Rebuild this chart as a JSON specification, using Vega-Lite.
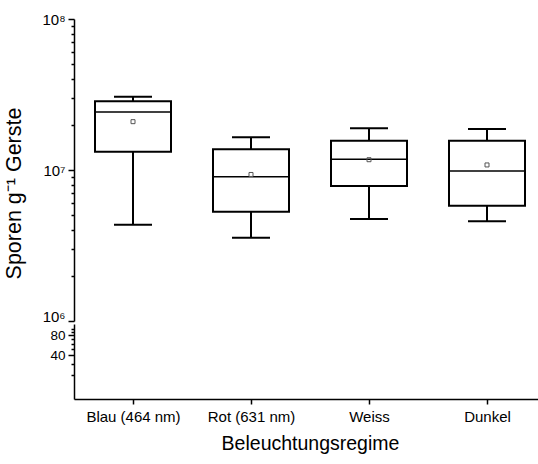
{
  "$schema": "https://vega.github.io/schema/vega-lite/v6.json",
  "padding": {"left": 3, "top": 12, "right": 0, "bottom": 5},
  "spacing": 3,
  "bounds": "flush",
  "config": {
    "view": {"stroke": null},
    "font": "Liberation Sans",
    "axis": {
      "grid": false,
      "domainColor": "#000",
      "domainWidth": 1.5,
      "tickColor": "#000",
      "tickWidth": 1.5,
      "labelColor": "#000",
      "titleColor": "#000",
      "labelFont": "Liberation Sans",
      "titleFont": "Liberation Sans",
      "titleFontWeight": "normal",
      "labelFontSize": 15,
      "titleFontSize": 19.5
    },
    "axisY": {"labelFontSize": 13.5}
  },
  "datasets": {
    "stats": [
      {"regime": "Blau (464 nm)", "min": 4340000, "q1": 13200000, "median": 24200000, "q3": 28500000, "max": 30600000, "mean": 20900000},
      {"regime": "Rot (631 nm)", "min": 3560000, "q1": 5290000, "median": 9030000, "q3": 13700000, "max": 16500000, "mean": 9340000},
      {"regime": "Weiss", "min": 4740000, "q1": 7840000, "median": 11800000, "q3": 15600000, "max": 18900000, "mean": 11700000},
      {"regime": "Dunkel", "min": 4570000, "q1": 5800000, "median": 9850000, "q3": 15600000, "max": 18700000, "mean": 10800000}
    ]
  },
  "vconcat": [
    {
      "width": 472,
      "height": 302,
      "data": {"name": "stats"},
      "encoding": {
        "x": {
          "field": "regime",
          "type": "nominal",
          "sort": ["Blau (464 nm)", "Rot (631 nm)", "Weiss", "Dunkel"],
          "scale": {"domain": ["Blau (464 nm)", "Rot (631 nm)", "Weiss", "Dunkel"], "paddingInner": 0, "paddingOuter": 0},
          "axis": null
        }
      },
      "layer": [
        {
          "mark": {"type": "rule", "strokeWidth": 2, "color": "#000"},
          "encoding": {
            "y": {
              "field": "min",
              "type": "quantitative",
              "scale": {"type": "log", "domain": [1000000, 100000000], "nice": false},
              "axis": {
                "title": "Sporen g⁻¹ Gerste",
                "titleFontSize": 21.5,
                "titleY": 174,
                "titleX": -49,
                "values": [1000000, 2000000, 3000000, 4000000, 5000000, 6000000, 7000000, 8000000, 9000000, 10000000, 20000000, 30000000, 40000000, 50000000, 60000000, 70000000, 80000000, 90000000, 100000000],
                "labelExpr": "datum.value == 100000000 ? '10⁸' : datum.value == 10000000 ? '10⁷' : datum.value == 1000000 ? '10⁶' : ''",
                "labelOverlap": false,
                "labelPadding": 3,
                "labelFontSize": 15,
                "labelBaseline": {"condition": {"test": "datum.value == 1000000", "value": "alphabetic"}, "value": "middle"},
                "tickSize": {"condition": {"test": "datum.value == 1000000 || datum.value == 10000000 || datum.value == 100000000", "value": 6}, "value": 3}
              }
            },
            "y2": {"field": "max"}
          }
        },
        {
          "mark": {"type": "bar", "size": 76, "fill": "#fff", "stroke": "#000", "strokeWidth": 2},
          "encoding": {
            "y": {"field": "q1", "type": "quantitative"},
            "y2": {"field": "q3"}
          }
        },
        {
          "mark": {"type": "tick", "size": 76, "thickness": 1.5, "color": "#000", "opacity": 1},
          "encoding": {"y": {"field": "median", "type": "quantitative"}}
        },
        {
          "mark": {"type": "tick", "size": 38, "thickness": 2, "color": "#000", "opacity": 1},
          "encoding": {"y": {"field": "min", "type": "quantitative"}}
        },
        {
          "mark": {"type": "tick", "size": 38, "thickness": 2, "color": "#000", "opacity": 1},
          "encoding": {"y": {"field": "max", "type": "quantitative"}}
        },
        {
          "mark": {"type": "point", "shape": "square", "size": 16, "filled": false, "stroke": "#555", "strokeWidth": 1, "opacity": 1},
          "encoding": {"y": {"field": "mean", "type": "quantitative"}}
        }
      ]
    },
    {
      "width": 472,
      "height": 75,
      "data": {"name": "stats"},
      "mark": {"type": "point", "opacity": 0},
      "encoding": {
        "x": {
          "field": "regime",
          "type": "nominal",
          "sort": ["Blau (464 nm)", "Rot (631 nm)", "Weiss", "Dunkel"],
          "scale": {"domain": ["Blau (464 nm)", "Rot (631 nm)", "Weiss", "Dunkel"], "paddingInner": 0, "paddingOuter": 0},
          "axis": {"title": "Beleuchtungsregime", "labelAngle": 0, "tickSize": 5, "labelPadding": 5, "titlePadding": 10}
        },
        "y": {
          "datum": 50,
          "type": "quantitative",
          "scale": {"type": "log", "domain": [8.8, 119], "nice": false},
          "axis": {
            "title": null,
            "values": [20, 30, 40, 50, 60, 70, 80, 90, 100],
            "labelExpr": "datum.value == 40 || datum.value == 80 ? datum.label : ''",
            "labelOverlap": false,
            "labelPadding": 3,
            "tickSize": {"condition": {"test": "datum.value == 40 || datum.value == 80", "value": 6}, "value": 3}
          }
        }
      }
    }
  ]
}
